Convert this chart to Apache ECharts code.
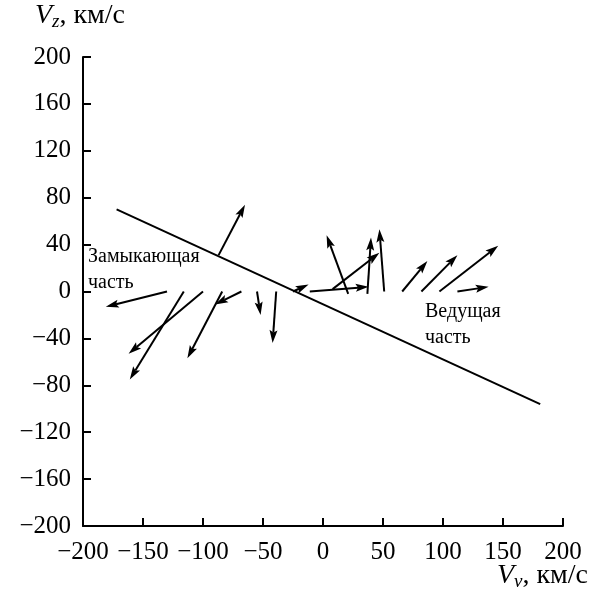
<!DOCTYPE html>
<html>
<head>
<meta charset="utf-8">
<style>
  html, body { margin: 0; padding: 0; background: #fff; }
  #chart { width: 591px; height: 594px; }
</style>
<script src="https://cdn.jsdelivr.net/npm/echarts@6/dist/echarts.min.js"></script>
</head>
<body>
<div id="chart"></div>
<script>
// Velocity vectors: start point (Vv, Vz) and end point (Vv, Vz), km/s
const startV = [-87, -130, -116, -100, -84, -68, -55, -39, -25, -11, 21, 8, 37, 51, 66, 82, 97, 112];
const startZ = [31, 0, 0, 0, 0, 0, 0, 0, 0, 0, -2, 2, -2, 0, 0, 0, 0, 0];
const endV   = [-65, -181, -161, -162, -113, -90, -52, -42, -12, 38, 3, 47, 40, 47, 87, 112, 146, 138];
const endZ   = [74, -13, -75, -53, -57, -11, -20, -44, 6, 4, 48, 33, 46, 53, 26, 31, 39, 4];

// Dividing line between trailing and leading parts
const lineV = [-172, 181];
const lineZ = [70, -96];

// Axis ticks
const xTicks = [-200, -150, -100, -50, 0, 50, 100, 150, 200];
const yTicks = [-200, -160, -120, -80, -40, 0, 40, 80, 120, 160, 200];

const FONT = '"Liberation Serif", "DejaVu Serif", serif';
const minus = v => String(v).replace('-', '\u2212');

const arrowData = startV.map((v, i) => [v, startZ[i], endV[i], endZ[i]]);
const lineData = lineV.map((v, i) => [v, lineZ[i]]);

function renderArrow(params, api) {
  const p0 = api.coord([api.value(0), api.value(1)]);
  const p1 = api.coord([api.value(2), api.value(3)]);
  const dx = p1[0] - p0[0], dy = p1[1] - p0[1];
  const len = Math.sqrt(dx * dx + dy * dy) || 1;
  const ux = dx / len, uy = dy / len;
  const nx = -uy, ny = ux;
  const headLen = 13, headW = 4, notch = 2.5;
  const base = [p1[0] - ux * headLen, p1[1] - uy * headLen];
  const inner = [p1[0] - ux * (headLen - notch), p1[1] - uy * (headLen - notch)];
  return {
    type: 'group',
    children: [
      {
        type: 'line',
        shape: { x1: p0[0], y1: p0[1], x2: inner[0], y2: inner[1] },
        style: { stroke: '#000', lineWidth: 2 }
      },
      {
        type: 'polygon',
        shape: { points: [
          p1,
          [base[0] + nx * headW, base[1] + ny * headW],
          inner,
          [base[0] - nx * headW, base[1] - ny * headW]
        ] },
        style: { fill: '#000' }
      }
    ]
  };
}

const titleRich = {
  v: { fontFamily: FONT, fontStyle: 'italic', fontSize: 28, fill: '#000' },
  s: { fontFamily: FONT, fontStyle: 'italic', fontSize: 19, fill: '#000', padding: [12, 0, 0, 0] },
  t: { fontFamily: FONT, fontSize: 28, fill: '#000' }
};

const chart = echarts.init(document.getElementById('chart'), null, { renderer: 'canvas' });

chart.setOption({
  animation: false,
  backgroundColor: '#fff',
  grid: { left: 83, right: 28, top: 57, bottom: 68 },
  xAxis: {
    type: 'value',
    min: xTicks[0], max: xTicks[xTicks.length - 1], interval: 50,
    splitLine: { show: false },
    axisLine: { onZero: false, lineStyle: { color: '#000', width: 2 } },
    axisTick: { inside: true, length: 8, lineStyle: { color: '#000', width: 2 } },
    axisLabel: { color: '#000', fontFamily: FONT, fontSize: 25, margin: 14, formatter: minus, hideOverlap: false }
  },
  yAxis: {
    type: 'value',
    min: yTicks[0], max: yTicks[yTicks.length - 1], interval: 40,
    splitLine: { show: false },
    axisLine: { onZero: false, lineStyle: { color: '#000', width: 2 } },
    axisTick: { inside: true, length: 8, lineStyle: { color: '#000', width: 2 } },
    axisLabel: { color: '#000', fontFamily: FONT, fontSize: 25, margin: 12, formatter: minus, hideOverlap: false }
  },
  series: [
    {
      type: 'line',
      data: lineData,
      symbol: 'none',
      lineStyle: { color: '#000', width: 2 },
      silent: true
    },
    {
      type: 'custom',
      data: arrowData,
      renderItem: renderArrow,
      encode: { x: [0, 2], y: [1, 3] },
      silent: true
    }
  ],
  graphic: [
    {
      type: 'text', left: 35, top: 2,
      style: { text: '{v|V}{s|z}{t|, км/с}', rich: titleRich }
    },
    {
      type: 'text', right: 3, top: 562,
      style: { text: '{v|V}{s|v}{t|, км/с}', rich: titleRich }
    },
    {
      type: 'text', left: 88, top: 244,
      style: { text: 'Замыкающая\nчасть', fontFamily: FONT, fontSize: 20, lineHeight: 26, fill: '#000' }
    },
    {
      type: 'text', left: 425, top: 299,
      style: { text: 'Ведущая\nчасть', fontFamily: FONT, fontSize: 20, lineHeight: 26, fill: '#000' }
    }
  ]
});
</script>
</body>
</html>
